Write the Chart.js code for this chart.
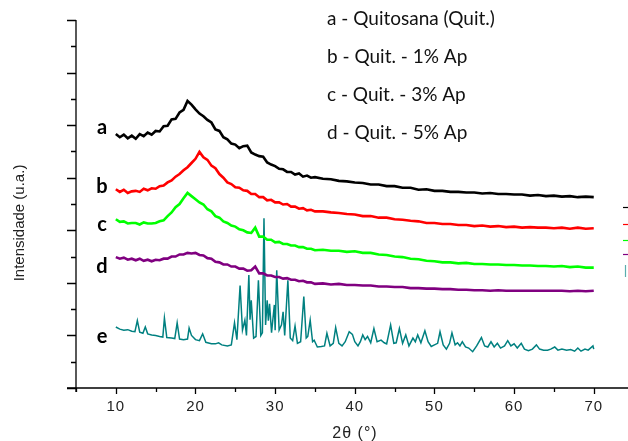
<!DOCTYPE html>
<html>
<head>
<meta charset="utf-8">
<script src="https://cdn.jsdelivr.net/npm/chart.js@4/dist/chart.umd.min.js"></script>
<style>
  html, body { margin:0; padding:0; background:#fff; overflow:hidden; }
  #graf { display:block; }
</style>
</head>
<body>
<canvas id="graf" width="628" height="441"></canvas>
<script>
// 2theta para las curvas amorfas (a - d)
const xsAmorfo = [10,10.5,11,11.5,12,12.5,13,13.5,14,14.5,15,15.5,16,16.5,17,17.5,18,18.5,19,19.5,20,20.5,21,21.5,22,22.5,23,23.5,24,24.5,25,25.5,26,26.5,27,27.5,28,28.5,29,29.5,30,30.5,31,31.5,32,32.5,33,33.5,34,34.5,35,
  36,37,38,39,40,41,42,43,44,45,46,47,48,49,50,51,52,53,54,55,56,57,58,59,60,61,62,63,64,65,66,67,68,69,70];

// a - Quitosana
const serieA = [4.83,4.77,4.82,4.75,4.80,4.74,4.83,4.79,4.86,4.82,4.89,4.88,4.98,4.99,5.11,5.12,5.24,5.29,5.46,5.39,5.30,5.22,5.17,5.10,5.05,4.92,4.89,4.77,4.73,4.65,4.63,4.56,4.60,4.61,4.48,4.44,4.41,4.40,4.29,4.25,4.22,4.17,4.16,4.11,4.11,4.06,4.08,4.02,4.04,4.00,4.01,
  3.98,3.97,3.94,3.93,3.91,3.90,3.87,3.87,3.84,3.84,3.81,3.81,3.77,3.78,3.75,3.75,3.73,3.73,3.72,3.72,3.70,3.71,3.69,3.69,3.68,3.68,3.66,3.67,3.65,3.66,3.64,3.65,3.63,3.64,3.63];
// b - Quit. - 1% Ap
const serieB = [3.78,3.73,3.77,3.71,3.74,3.75,3.73,3.79,3.76,3.80,3.79,3.84,3.85,3.91,3.95,4.02,4.07,4.14,4.20,4.28,4.36,4.49,4.39,4.34,4.23,4.18,4.07,4.00,3.91,3.88,3.82,3.81,3.76,3.75,3.69,3.69,3.63,3.63,3.57,3.58,3.53,3.53,3.49,3.50,3.45,3.45,3.41,3.42,3.38,3.39,3.36,
  3.36,3.34,3.33,3.31,3.30,3.27,3.27,3.24,3.24,3.21,3.20,3.18,3.17,3.14,3.14,3.12,3.12,3.10,3.10,3.08,3.09,3.07,3.08,3.06,3.07,3.05,3.06,3.05,3.05,3.04,3.05,3.03,3.05,3.03,3.04];
// c - Quit. - 3% Ap
const serieC = [3.21,3.16,3.17,3.13,3.14,3.14,3.11,3.15,3.13,3.13,3.14,3.17,3.19,3.27,3.34,3.44,3.50,3.61,3.71,3.65,3.59,3.53,3.49,3.40,3.36,3.27,3.24,3.17,3.14,3.09,3.07,3.02,3.00,2.96,2.95,3.05,2.88,2.88,2.82,2.82,2.77,2.78,2.74,2.74,2.71,2.71,2.68,2.68,2.65,2.65,2.62,
  2.63,2.61,2.61,2.59,2.60,2.57,2.57,2.54,2.53,2.50,2.49,2.46,2.45,2.42,2.41,2.39,2.39,2.37,2.38,2.36,2.36,2.35,2.35,2.34,2.34,2.33,2.33,2.32,2.32,2.31,2.32,2.30,2.31,2.29,2.29];
// d - Quit. - 5% Ap
const serieD = [2.49,2.46,2.48,2.44,2.46,2.43,2.46,2.42,2.44,2.41,2.44,2.43,2.46,2.46,2.50,2.50,2.54,2.54,2.57,2.56,2.57,2.53,2.52,2.47,2.46,2.40,2.39,2.35,2.35,2.31,2.31,2.27,2.27,2.23,2.24,2.31,2.18,2.18,2.14,2.14,2.11,2.11,2.08,2.09,2.06,2.06,2.03,2.04,2.01,2.01,1.98,
  1.99,1.97,1.98,1.96,1.96,1.95,1.95,1.93,1.93,1.92,1.92,1.90,1.90,1.89,1.89,1.88,1.88,1.87,1.87,1.86,1.86,1.85,1.86,1.85,1.85,1.85,1.85,1.85,1.85,1.85,1.85,1.84,1.85,1.84,1.85];

// e - apatita (cristalina), con sus picos
const xsE = [10,10.5,11,11.5,12,12.4,12.7,13.0,13.4,13.7,14.0,14.5,15,15.5,15.9,16.1,16.4,17,17.4,17.7,18.0,18.5,19.0,19.2,19.5,20.0,20.5,20.9,21.3,22,22.5,22.9,23.3,24,24.5,24.9,25.2,25.6,25.9,26.2,26.4,26.7,26.85,27.0,27.3,27.6,27.9,28.2,28.4,28.6,28.8,29.0,29.15,29.3,29.55,29.9,30.0,30.2,30.5,30.8,31.0,31.2,31.6,31.9,32.2,32.5,32.8,33.2,33.6,33.9,34.1,34.4,34.7,34.9,35.3,35.8,36.2,36.5,36.9,37.3,37.6,38.0,38.4,38.8,39.3,39.7,40.0,40.4,40.7,41.0,41.3,41.6,42.0,42.4,42.8,43.3,43.7,44.0,44.5,44.9,45.2,45.6,46.0,46.4,46.8,47.3,47.6,47.9,48.3,48.8,49.2,49.6,50.0,50.4,50.7,51.1,51.5,51.9,52.2,52.6,52.9,53.2,53.5,53.9,54.3,54.8,55.3,55.9,56.3,56.7,57.1,57.5,57.9,58.3,58.8,59.2,59.6,60.0,60.4,60.9,61.3,61.8,62.3,62.8,63.2,63.7,64.2,64.6,65.1,65.5,66.0,66.6,67.1,67.6,68.0,68.4,68.9,69.3,69.9,70.0];
const serieE = [1.16,1.12,1.10,1.11,1.08,1.07,1.28,1.06,1.04,1.16,1.03,1.01,1.00,0.98,0.97,1.33,0.96,0.95,0.94,1.24,0.93,0.92,0.93,1.14,1.00,0.92,0.90,1.03,0.87,0.84,0.84,0.86,0.82,0.80,0.82,1.24,0.92,1.95,1.10,1.29,1.00,2.15,1.30,1.67,0.95,0.98,2.05,1.00,1.05,3.23,1.20,1.67,1.28,1.60,1.05,1.58,1.10,2.24,1.10,1.20,1.45,1.00,2.05,0.95,0.90,1.18,0.85,0.88,1.74,0.95,0.98,1.29,0.88,0.91,0.78,0.79,0.80,1.04,0.80,0.85,1.15,0.85,0.80,0.88,1.07,1.02,0.88,0.80,0.88,1.01,0.92,0.98,0.86,1.13,0.88,0.91,0.86,0.84,1.20,0.85,0.86,1.13,0.85,1.01,0.80,0.95,0.88,1.01,0.86,1.09,0.88,0.79,0.82,0.85,1.07,0.82,0.74,0.85,1.05,0.82,0.86,0.80,0.88,0.78,0.76,0.69,0.80,0.96,0.80,0.78,0.88,0.78,0.85,0.76,0.80,0.90,0.80,0.84,0.76,0.85,0.74,0.71,0.74,0.82,0.74,0.72,0.72,0.74,0.78,0.72,0.74,0.72,0.73,0.70,0.76,0.70,0.74,0.72,0.80,0.74];

const letras = ['a','b','c','d','e'];
const leyendas = ['a - Quitosana (Quit.)','b - Quit. - 1% Ap','c - Quit. - 3% Ap','d - Quit. - 5% Ap','e - Apatita (AP)'];
const colores = ['#000000','#ff0000','#00ff00','#800080','#008080'];
const xTicks = [10,20,30,40,50,60,70];

function pares(xs, ys){ return xs.map((x,i)=>({x:x, y:ys[i]})); }

// Ejes al estilo Origin, dibujados a mano con las escalas del chart
const ejes = {
  id: 'ejes',
  afterDraw(chart){
    const ctx = chart.ctx, xs = chart.scales.x, ys = chart.scales.y, a = chart.chartArea;
    ctx.save();
    ctx.strokeStyle = '#000'; ctx.lineWidth = 1.3;
    ctx.beginPath();
    ctx.moveTo(a.left, a.top); ctx.lineTo(a.left, a.bottom + 4);
    ctx.moveTo(a.left - 9, a.bottom); ctx.lineTo(628, a.bottom);
    ctx.stroke();
    // ticks y
    ctx.beginPath();
    for(let v=0; v<=7; v+=0.5){
      const py = Math.round(ys.getPixelForValue(v)) + 0.5;
      const largo = (v % 1 === 0) ? 9 : 5;
      ctx.moveTo(a.left - largo, py); ctx.lineTo(a.left, py);
    }
    // ticks x
    for(let v=5; v<=75; v+=5){
      const px = Math.round(xs.getPixelForValue(v)) + 0.5;
      if(px > 628) break;
      const largo = (v % 10 === 0) ? 6 : 4;
      ctx.moveTo(px, a.bottom); ctx.lineTo(px, a.bottom + largo);
    }
    ctx.stroke();
    // etiquetas x
    ctx.fillStyle = '#222';
    ctx.font = '15px "Liberation Sans", Arial, sans-serif';
    ctx.textAlign = 'center'; ctx.textBaseline = 'middle';
    if('letterSpacing' in ctx) ctx.letterSpacing = '1px';
    xTicks.forEach(v => ctx.fillText(String(v), xs.getPixelForValue(v), a.bottom + 19));
    ctx.font = '16px "Liberation Sans", Arial, sans-serif';
    ctx.fillText('2\u03B8 (\u00B0)', 355, 434);
    if('letterSpacing' in ctx) ctx.letterSpacing = '0px';
    // titulo y
    ctx.save();
    ctx.translate(20, 223); ctx.rotate(-Math.PI/2);
    ctx.font = '15px "Liberation Sans", Arial, sans-serif';
    ctx.fillStyle = '#222';
    ctx.fillText('Intensidade (u.a.)', 0, 0);
    ctx.restore();
    // letras de cada curva
    ctx.fillStyle = '#000';
    ctx.font = 'bold 20px Lato, "Open Sans", sans-serif';
    const yLetra = [128, 187, 225, 267, 337];
    letras.forEach((l,i) => ctx.fillText(l, 102, yLetra[i]));
    // leyenda de texto
    ctx.textAlign = 'left';
    ctx.font = '19px Lato, "Open Sans", sans-serif';
    ctx.fillStyle = '#111';
    leyendas.forEach((t,i) => {
      const ty = 19 + i*38;
      if(i === 4){
        // solo asoma la parte de arriba de la ultima linea
        ctx.save();
        ctx.beginPath(); ctx.rect(300, 150, 200, 13.5); ctx.clip();
        ctx.fillText(t, 327, ty + 2);
        ctx.restore();
      } else {
        ctx.fillText(t, 327, ty);
      }
    });
    // restos de la leyenda de Origin en el borde derecho
    const yRestos = [207, 224, 240, 254];
    ctx.lineWidth = 1.2;
    yRestos.forEach((yy,i) => {
      ctx.strokeStyle = colores[i];
      ctx.beginPath(); ctx.moveTo(623, yy + 0.5); ctx.lineTo(628, yy + 0.5); ctx.stroke();
    });
    ctx.strokeStyle = '#5aaeae';
    ctx.beginPath(); ctx.moveTo(625.5, 265); ctx.lineTo(625.5, 277); ctx.stroke();
    ctx.restore();
  }
};

const series = [serieA, serieB, serieC, serieD];
const datasets = series.map((s,i) => ({
  label: letras[i],
  data: pares(xsAmorfo, s),
  borderColor: colores[i],
  borderWidth: 2.6,
  pointRadius: 0,
  tension: 0
}));
datasets.push({
  label: 'e',
  data: pares(xsE, serieE),
  borderColor: colores[4],
  borderWidth: 1.5,
  pointRadius: 0,
  tension: 0
});

new Chart(document.getElementById('graf'), {
  type: 'line',
  data: { datasets },
  options: {
    responsive: false,
    animation: false,
    layout: { padding: { left: 76, right: 0, top: 20, bottom: 53 } },
    plugins: { legend: { display: false }, tooltip: { enabled: false } },
    scales: {
      x: { type: 'linear', min: 5, max: 74.3, display: false },
      y: { min: 0, max: 7, display: false }
    }
  },
  plugins: [ejes]
});
</script>
</body>
</html>
